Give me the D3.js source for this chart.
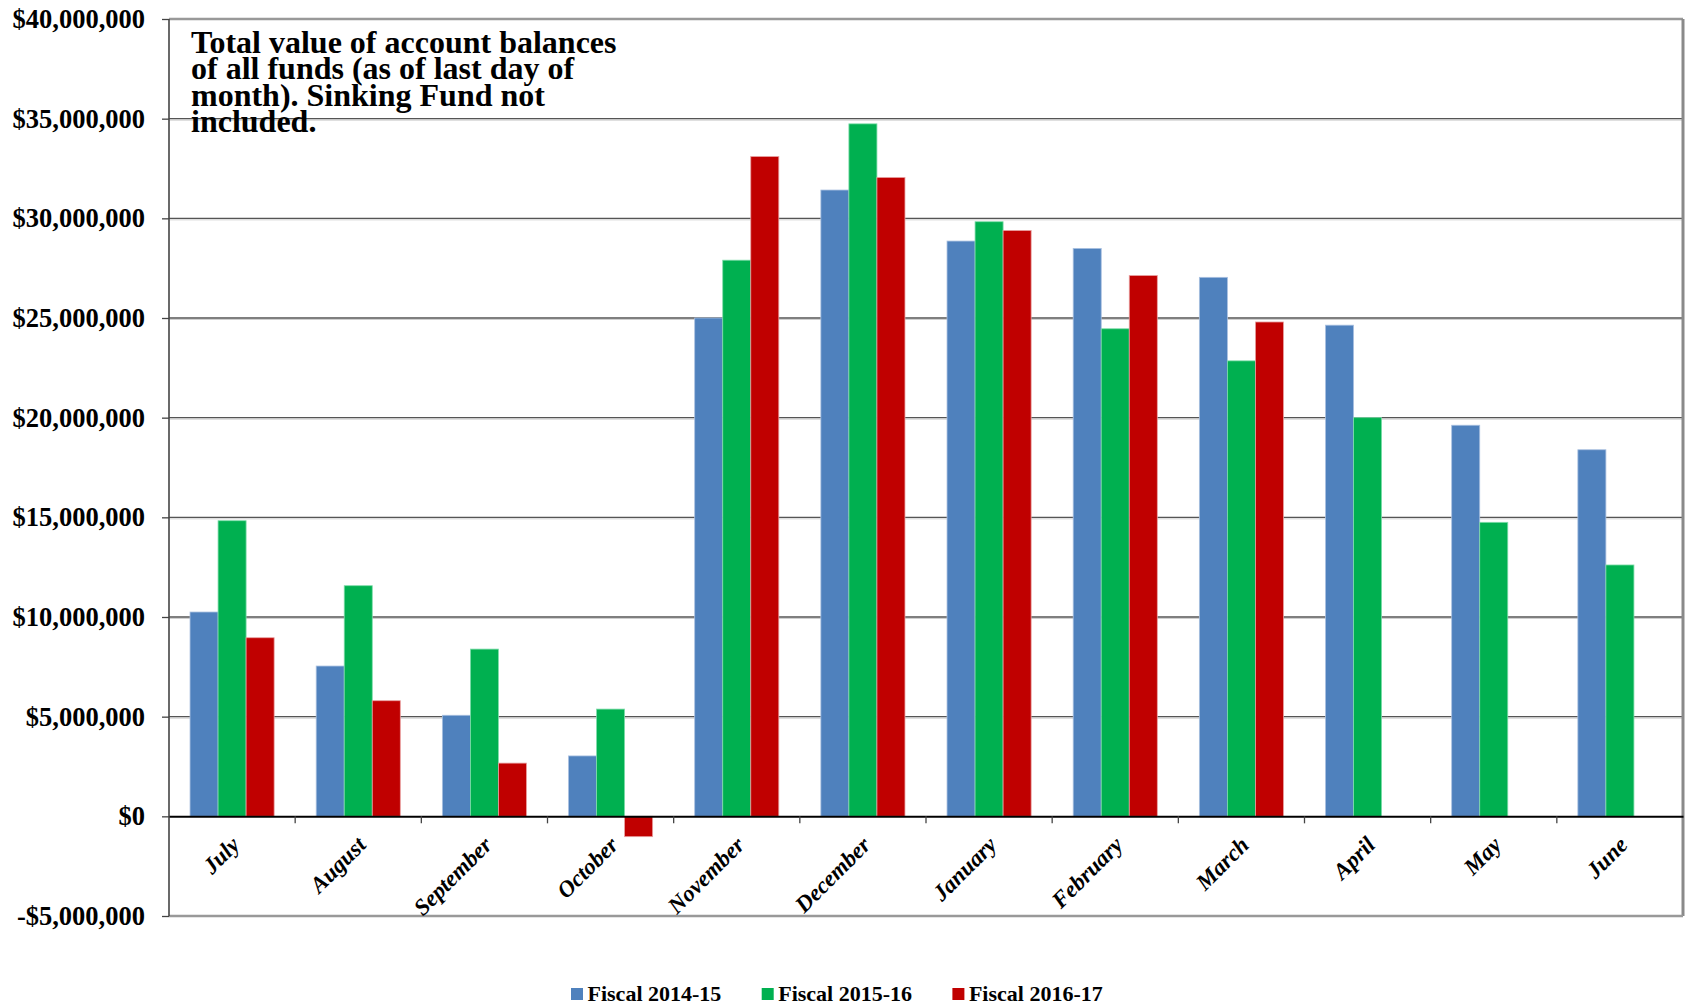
<!DOCTYPE html>
<html>
<head>
<meta charset="utf-8">
<script src="https://cdn.jsdelivr.net/npm/d3@7"></script>
<style>
  body { margin: 0; background: #fff; }
  text { font-family: "Liberation Serif", "Times New Roman", serif; font-weight: bold; }
</style>
</head>
<body>
<div id="chart"></div>
<script>
// Chart data (last day of month balances)
let months = ["July", "August", "September", "October", "November", "December",
              "January", "February", "March", "April", "May", "June"];
let seriesNames = ["Fiscal 2014-15", "Fiscal 2015-16", "Fiscal 2016-17"];
let fiscal1415 = [10250000, 7540000, 5070000, 3030000, 25000000, 31420000,
                  28860000, 28490000, 27040000, 24640000, 19620000, 18390000];
let fiscal1516 = [14830000, 11570000, 8390000, 5380000, 27900000, 34740000,
                  29830000, 24460000, 22850000, 20000000, 14750000, 12610000];
let fiscal1617 = [8960000, 5800000, 2670000, -1020000, 33100000, 32050000,
                  29390000, 27130000, 24800000, null, null, null];
let yTicks = [-5000000, 0, 5000000, 10000000, 15000000, 20000000,
              25000000, 30000000, 35000000, 40000000];
let titleLines = ["Total value of account balances", "of all funds (as of last day of",
                  "month). Sinking Fund not", "included."];
let colors = ["#4F81BD", "#00B050", "#C00000"];
let strokes = ["#a9c0e0", "#7fdcaa", "#e8a0a0"];

// Set height and width for svg
let svgWidth = 1687;
let svgHeight = 1005;
let margin = { top: 19, right: 4, bottom: 89, left: 169 };
let width = svgWidth - margin.left - margin.right;
let height = svgHeight - margin.top - margin.bottom;

let svg = d3.select("#chart")
  .append("svg")
  .attr("width", svgWidth)
  .attr("height", svgHeight);

let chartGroup = svg.append("g")
  .attr("transform", `translate(${margin.left}, ${margin.top})`);

// Scales
let x0 = d3.scaleBand()
  .domain(months)
  .range([0, width]);
let x1 = d3.scaleBand()
  .domain(seriesNames)
  .range([x0.bandwidth() / 6, x0.bandwidth() * 5 / 6]);
let y = d3.scaleLinear()
  .domain([-5000000, 40000000])
  .range([height, 0]);

// Gridlines
let gridTicks = yTicks.filter(d => d > -5000000 && d < 40000000 && d !== 0);
chartGroup.append("g")
  .selectAll("line")
  .data(gridTicks)
  .enter()
  .append("line")
  .attr("x1", 0).attr("x2", width)
  .attr("y1", d => y(d) + 1.5).attr("y2", d => y(d) + 1.5)
  .attr("stroke", "#cfcfcf")
  .attr("stroke-width", 1);
chartGroup.append("g")
  .selectAll("line")
  .data(gridTicks)
  .enter()
  .append("line")
  .attr("x1", 0).attr("x2", width)
  .attr("y1", d => y(d)).attr("y2", d => y(d))
  .attr("stroke", "#555")
  .attr("stroke-width", 1.3);

// Plot frame
chartGroup.append("line")
  .attr("x1", 0).attr("x2", width).attr("y1", 0).attr("y2", 0)
  .attr("stroke", "#999").attr("stroke-width", 2.5);
chartGroup.append("line")
  .attr("x1", width).attr("x2", width).attr("y1", 0).attr("y2", height)
  .attr("stroke", "#8a8a8a").attr("stroke-width", 3);
chartGroup.append("line")
  .attr("x1", 0).attr("x2", width).attr("y1", height).attr("y2", height)
  .attr("stroke", "#999").attr("stroke-width", 2.5);

// Bars
let allSeries = [fiscal1415, fiscal1516, fiscal1617];
let barData = [];
months.forEach((m, i) => {
  seriesNames.forEach((s, j) => {
    if (allSeries[j][i] !== null) barData.push({ month: m, series: s, idx: j, value: allSeries[j][i] });
  });
});

chartGroup.append("g")
  .selectAll("rect")
  .data(barData)
  .enter()
  .append("rect")
  .attr("x", d => x0(d.month) + x1(d.series))
  .attr("width", x1.bandwidth())
  .attr("y", d => y(Math.max(0, d.value)))
  .attr("height", d => Math.abs(y(d.value) - y(0)))
  .attr("fill", d => colors[d.idx])
  .attr("stroke", d => strokes[d.idx])
  .attr("stroke-width", 0.8);

// Y axis
let leftAxis = d3.axisLeft(y)
  .tickValues(yTicks)
  .tickSize(7)
  .tickPadding(17)
  .tickFormat(d => (d < 0 ? "-$" : "$") + d3.format(",")(Math.abs(d)));
let yAxis = chartGroup.append("g").call(leftAxis);
yAxis.select(".domain").remove();
yAxis.selectAll("line").attr("stroke", "#444").attr("stroke-width", 1.3);
yAxis.selectAll("text")
  .style("font-size", "26.5px")
  .style("font-weight", "bold")
  .attr("fill", "#000");
chartGroup.append("line")
  .attr("x1", 0).attr("x2", 0).attr("y1", 0).attr("y2", height)
  .attr("stroke", "#444").attr("stroke-width", 1.6);

// X axis on zero line
let bottomAxis = d3.axisBottom(x0)
  .tickSize(0)
  .tickFormat("");
let xAxis = chartGroup.append("g")
  .attr("transform", `translate(0, ${y(0)})`)
  .call(bottomAxis);
xAxis.select(".domain").attr("stroke", "#000").attr("stroke-width", 2);
chartGroup.append("g")
  .selectAll("line")
  .data(months.slice(1))
  .enter()
  .append("line")
  .attr("x1", d => x0(d)).attr("x2", d => x0(d))
  .attr("y1", y(0)).attr("y2", y(0) + 7)
  .attr("stroke", "#444").attr("stroke-width", 1.3);

// Month labels
chartGroup.append("g")
  .selectAll("text")
  .data(months)
  .enter()
  .append("text")
  .attr("transform", d => `translate(${x0(d) + x0.bandwidth() / 2 + 9}, ${y(0) + 30}) rotate(-45)`)
  .attr("text-anchor", "end")
  .style("font-size", "23px")
  .style("font-style", "italic")
  .text(d => d);

// Title block
svg.append("g")
  .selectAll("text")
  .data(titleLines)
  .enter()
  .append("text")
  .attr("x", 191)
  .attr("y", (d, i) => 53 + i * 26.3)
  .style("font-size", "32px")
  .text(d => d);

// Legend
let legend = svg.append("g")
  .attr("transform", "translate(571, 1001)");
let legendItems = legend.selectAll("g")
  .data(seriesNames)
  .enter()
  .append("g")
  .attr("transform", (d, i) => `translate(${i * 190.7}, 0)`);
legendItems.append("rect")
  .attr("x", 0).attr("y", -13)
  .attr("width", 12).attr("height", 12)
  .attr("fill", (d, i) => colors[i]);
legendItems.append("text")
  .attr("x", 16.5).attr("y", 0)
  .style("font-size", "22px")
  .text(d => d);
</script>
</body>
</html>
